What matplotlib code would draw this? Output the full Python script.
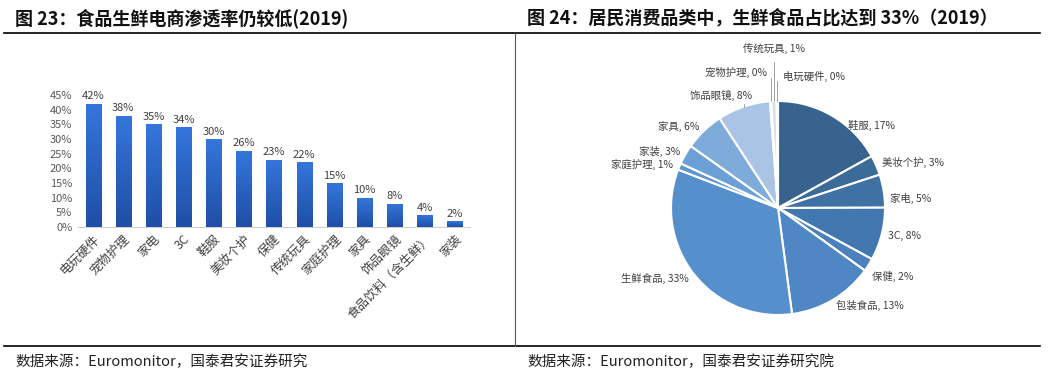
import numpy as np
import matplotlib
matplotlib.use("Agg")
import matplotlib.pyplot as plt
from matplotlib.colors import LinearSegmentedColormap

plt.rcParams['font.family'] = ['Noto Sans CJK SC', 'DejaVu Sans']

# ---------------- data ----------------
bar_categories = ['电玩硬件', '宠物护理', '家电', '3C', '鞋服', '美妆个护', '保健',
                  '传统玩具', '家庭护理', '家具', '饰品眼镜', '食品饮料（含生鲜）', '家装']
bar_values = [0.42, 0.38, 0.35, 0.34, 0.30, 0.26, 0.23, 0.22, 0.15, 0.10, 0.08, 0.04, 0.02]
bar_labels = ['42%', '38%', '35%', '34%', '30%', '26%', '23%', '22%', '15%', '10%', '8%', '4%', '2%']
y_ticks = [0, 0.05, 0.10, 0.15, 0.20, 0.25, 0.30, 0.35, 0.40, 0.45]
y_ticklabels = ['0%', '5%', '10%', '15%', '20%', '25%', '30%', '35%', '40%', '45%']

pie_categories = ['鞋服', '美妆个护', '家电', '3C', '保健', '包装食品', '生鲜食品',
                  '家庭护理', '家装', '家具', '饰品眼镜', '宠物护理', '传统玩具', '电玩硬件']
pie_values = [17, 3, 5, 8, 2, 13, 33, 1, 3, 6, 8, 0.2, 0.8, 0.2]
pie_pct_labels = ['17%', '3%', '5%', '8%', '2%', '13%', '33%', '1%', '3%', '6%', '8%', '0%', '1%', '0%']
pie_colors = ['#38638e', '#3c6b9a', '#3f71a4', '#4377b0', '#4a80bb', '#4f87c4', '#5590cc',
              '#5d96d0', '#6aa0d5', '#7eabd9', '#a9c4e5', '#c2d5ec', '#d2e0f1', '#dde7f4']

titles = ['图 23：食品生鲜电商渗透率仍较低(2019)', '图 24：居民消费品类中，生鲜食品占比达到 33%（2019）']
sources = ['数据来源：Euromonitor，国泰君安证券研究', '数据来源：Euromonitor，国泰君安证券研究院']

# ---------------- figure ----------------
W, H = 1055, 375
fig = plt.figure(figsize=(W / 100, H / 100), dpi=100)
fig.patch.set_facecolor('white')

def px_axes(left, top, right, bottom):
    return fig.add_axes([left / W, 1 - bottom / H, (right - left) / W, (bottom - top) / H])

# frame lines
frame = fig.add_axes([0, 0, 1, 1])
frame.set_xlim(0, W)
frame.set_ylim(H, 0)
frame.axis('off')
frame.plot([4, 1040], [33, 33], color='black', lw=1.2)
frame.plot([4, 1040], [346, 346], color='black', lw=1.2)
frame.plot([515, 515], [33, 346], color='#555555', lw=0.8)

frame.text(15, 18, titles[0], fontsize=13, fontweight='bold', va='center', ha='left', color='#111111')
frame.text(527, 18, titles[1], fontsize=13, fontweight='bold', va='center', ha='left', color='#111111')
frame.text(15, 362, sources[0], fontsize=10.5, va='center', ha='left', color='#222222')
frame.text(527, 362, sources[1], fontsize=10.5, va='center', ha='left', color='#222222')

# ---------------- bar chart ----------------
ax = px_axes(78, 95, 470, 227)
x = np.arange(len(bar_categories))
bars = ax.bar(x, bar_values, width=0.5, color='#2a5fc4', zorder=2)
cmap = LinearSegmentedColormap.from_list('g', ['#1f4fa6', '#3576dc'])
grad = np.linspace(0, 1, 100).reshape(-1, 1)
for b in bars:
    bx, by = b.get_x(), b.get_y()
    im = ax.imshow(grad, extent=(bx, bx + b.get_width(), by, by + b.get_height()),
                   origin='lower', cmap=cmap, aspect='auto', zorder=3)
    im.set_clip_path(b)
for xi, v, lab in zip(x, bar_values, bar_labels):
    ax.text(xi, v + 0.008, lab, ha='center', va='bottom', fontsize=8, color='#404040')
ax.set_xlim(-0.5, len(bar_categories) - 0.5)
ax.set_ylim(0, 0.45)
ax.set_yticks(y_ticks)
ax.set_yticklabels(y_ticklabels, fontsize=8, color='#595959')
ax.set_xticks(x)
ax.set_xticklabels(bar_categories, rotation=45, ha='right', rotation_mode='anchor',
                   fontsize=9, color='#404040')
ax.tick_params(axis='both', length=0, pad=4)
for s in ['top', 'right', 'left']:
    ax.spines[s].set_visible(False)
ax.spines['bottom'].set_color('#d0d0d0')
ax.patch.set_alpha(0)

# ---------------- pie chart ----------------
cx, cy, r = 778, 208, 107
pax = px_axes(cx - r, cy - r, cx + r, cy + r)
wedges, _ = pax.pie(pie_values, colors=pie_colors, startangle=90, counterclock=False,
                    radius=1.0, wedgeprops=dict(edgecolor='white', linewidth=1.5))
pax.set_xlim(-1, 1)
pax.set_ylim(-1, 1)
pax.set_aspect('auto')

small_offsets = {'饰品眼镜': (0.08, 0.10, 'right'),
                 '宠物护理': (-0.03, 0.27, 'right'),
                 '传统玩具': (0.0, 0.49, 'center'),
                 '电玩硬件': (0.05, 0.23, 'left')}
nudges = {'鞋服': (0.12, -0.14), '家电': (0.0, -0.08), '保健': (-0.02, -0.08)}
for w, cat, pct in zip(wedges, pie_categories, pie_pct_labels):
    ang = np.deg2rad((w.theta1 + w.theta2) / 2)
    ex, ey = np.cos(ang), np.sin(ang)
    text = f'{cat}, {pct}'
    if cat in small_offsets:
        dx, dy, ha = small_offsets[cat]
        tx, ty = ex + dx, ey + dy
        pax.annotate(text, xy=(ex, ey), xytext=(tx, ty), ha=ha, va='center',
                     fontsize=7.5, color='#404040', annotation_clip=False,
                     arrowprops=dict(arrowstyle='-', color='#a0a0a0', lw=0.7,
                                     shrinkA=4, shrinkB=0,
                                     connectionstyle='angle,angleA=0,angleB=90,rad=0'))
    else:
        d = 1.06
        ndx, ndy = nudges.get(cat, (0, 0))
        ha = 'left' if ex > 0.05 else ('right' if ex < -0.05 else 'center')
        pax.text(ex * d + ndx, ey * d + ndy, text, ha=ha, va='center', fontsize=7.5,
                 color='#404040', clip_on=False)

fig.savefig('out.png', dpi=100, facecolor='white')
